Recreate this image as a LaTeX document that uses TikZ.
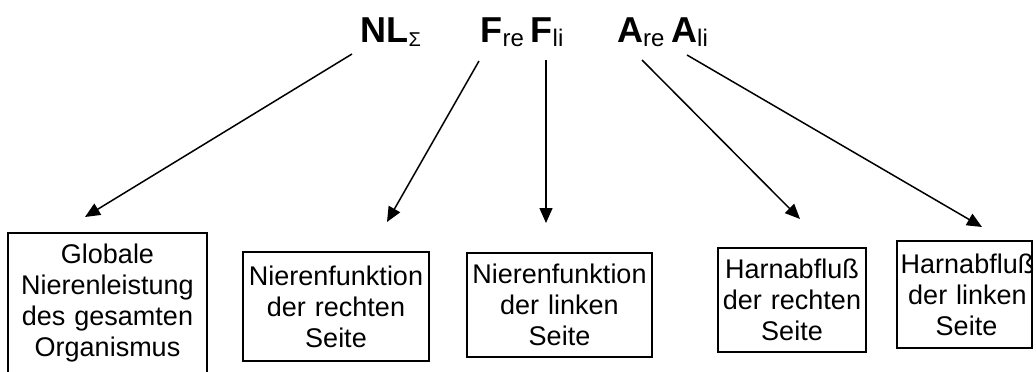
\documentclass[tikz,border=0pt]{standalone}
\usepackage{fontspec}
\setmainfont{Liberation Sans}
\usetikzlibrary{arrows.meta}
\newcommand\boxline[1]{\makebox[\hsize]{#1}}
\newcommand\subs[2]{\raisebox{-4pt}{\fontsize{#1}{#1}\selectfont\mdseries #2}}
\begin{document}
\begin{tikzpicture}[x=1pt,y=-1pt,
  txtbox/.style={draw, line width=1.5pt, inner sep=0pt, align=center,
    font=\fontsize{27}{31}\selectfont},
  hdr/.style={anchor=base west, inner sep=0pt,
    font=\fontsize{36}{36}\selectfont\bfseries},
  conn/.style={line width=1.5pt, -{Triangle[length=15pt,width=13pt]}}]
\useasboundingbox (0,0) rectangle (1036,372);
\clip (0,0) rectangle (1036,372);
% header labels
\node[hdr] (NL)  at (360.5,42) {NL\subs{20}{Σ}};
\node[hdr] (Fre) at (480.5,42) {F\subs{24}{re}};
\node[hdr] (Fli) at (530.5,42) {F\subs{24}{li}};
\node[hdr] (Are) at (617,42) {A\subs{24}{re}};
\node[hdr] (Ali) at (671,42) {A\subs{24}{li}};
% boxes
\node[txtbox, text width=199pt, minimum height=141pt] (b1) at (107.5,303.5)
  {\boxline{Globale}\\\boxline{Nierenleistung}\\\boxline{des gesamten}\\\boxline{Organismus}};
\node[txtbox, text width=186pt, minimum height=109pt] (b2) at (336,306.5)
  {\boxline{Nierenfunktion}\\\boxline{der rechten}\\\boxline{Seite}};
\node[txtbox, text width=185pt, minimum height=104pt] (b3) at (559.5,305)
  {\boxline{Nierenfunktion}\\\boxline{der linken}\\\boxline{Seite}};
\node[txtbox, text width=148pt, minimum height=104pt] (b4) at (792,300)
  {\boxline{Harnabfluß}\\\boxline{der rechten}\\\boxline{Seite}};
\node[txtbox, text width=135pt, minimum height=107pt] (b5) at (964.5,294.5)
  {\boxline{\hspace*{6pt}Harnabfluß}\\\boxline{\hspace*{6pt}der linken}\\\boxline{\hspace*{4pt}Seite}};
% connector ends
\coordinate (s1) at (352,54);  \coordinate (e1) at (85,217);
\coordinate (s2) at (479,61);  \coordinate (e2) at (387,222);
\coordinate (s3) at (546,60);  \coordinate (e3) at (546,223);
\coordinate (s4) at (642,60);  \coordinate (e4) at (800,219);
\coordinate (s5) at (687,55);  \coordinate (e5) at (982,227);
\draw[conn] (s1) -- (e1);
\draw[conn] (s2) -- (e2);
\draw[conn] (s3) -- (e3);
\draw[conn] (s4) -- (e4);
\draw[conn] (s5) -- (e5);
\end{tikzpicture}
\end{document}
